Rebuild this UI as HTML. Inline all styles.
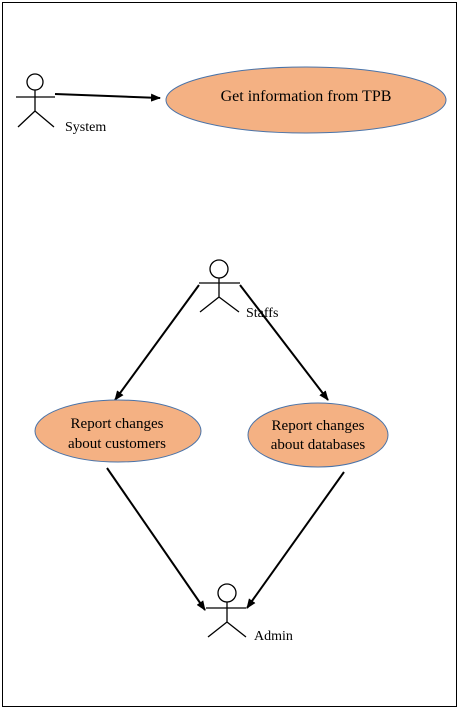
<!DOCTYPE html>
<html><head><style>body{margin:0;background:#fff}svg{display:block}</style></head><body>
<svg width="461" height="710" xmlns="http://www.w3.org/2000/svg" font-family="Liberation Serif, serif">
<defs><marker id="a" markerWidth="10" markerHeight="8" refX="9" refY="4" orient="auto" markerUnits="userSpaceOnUse"><path d="M0,0 L10,4 L0,8z" fill="#000"/></marker></defs>
<rect x="2.5" y="2.5" width="454" height="704" fill="none" stroke="#000" stroke-width="1"/>
<g fill="none" stroke="#000" stroke-width="1.3">
<circle cx="35" cy="82" r="8"/><path d="M16 97H55M35 90V111M35 111L18 127M35 111L54 127"/>
<circle cx="219" cy="269" r="9"/><path d="M199 283H240M219 278V297M219 297L200 312M219 297L239 312"/>
<circle cx="227" cy="593" r="9"/><path d="M206 608H246M227 602V622M227 622L208 637M227 622L246 637"/>
</g>
<g stroke="#000" stroke-width="2" marker-end="url(#a)">
<line x1="55" y1="94" x2="160" y2="98"/>
<line x1="199" y1="285" x2="115" y2="400"/>
<line x1="240" y1="285" x2="328" y2="400"/>
<line x1="107" y1="468" x2="205" y2="610"/>
<line x1="344" y1="472" x2="247" y2="608"/>
</g>
<g fill="#f4b183" stroke="#4a73a8" stroke-width="1">
<ellipse cx="306" cy="100" rx="140" ry="33"/>
<ellipse cx="118" cy="431" rx="83" ry="31"/>
<ellipse cx="318" cy="435" rx="70" ry="32"/>
</g>
<g font-size="14" fill="#000">
<text x="65" y="131">System</text>
<text x="246" y="317">Staffs</text>
<text x="254" y="640">Admin</text>
</g>
<g font-size="15" fill="#000" text-anchor="middle">
<text x="306" y="101" font-size="16">Get information from TPB</text>
<text x="117" y="428">Report changes</text>
<text x="117" y="448">about customers</text>
<text x="318" y="430">Report changes</text>
<text x="318" y="449">about databases</text>
</g>
</svg>
</body></html>
